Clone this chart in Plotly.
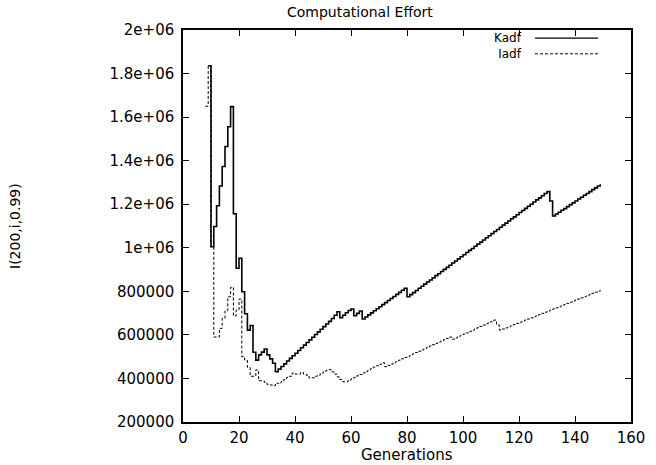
import plotly.graph_objects as go

# ---- data ----
kadf_gen = list(range(9, 150))
kadf_val = [
    1836000, 1005000, 1098000, 1193000, 1284000, 1373000, 1465000, 1556000, 1648000, 1156000,
    906000, 952000, 798000, 697000, 622000, 643000, 520000, 484000, 508000, 521000,
    535000, 508000, 490000, 470000, 431000, 443000, 455000, 467000, 480000, 492000,
    504000, 516000, 528000, 541000, 553000, 565000, 577000, 589000, 602000, 614000,
    626000, 638000, 650000, 662000, 675000, 690000, 706000, 679000, 690000, 702000,
    712000, 719000, 688000, 699000, 710000, 673000, 682000, 692000, 701000, 711000,
    720000, 729000, 739000, 748000, 758000, 767000, 776000, 786000, 795000, 805000,
    814000, 775000, 785000, 794000, 804000, 814000, 823000, 833000, 843000, 852000,
    862000, 872000, 881000, 891000, 901000, 910000, 920000, 930000, 939000, 949000,
    959000, 968000, 978000, 988000, 997000, 1007000, 1017000, 1026000, 1036000, 1046000,
    1055000, 1065000, 1075000, 1084000, 1094000, 1104000, 1113000, 1123000, 1133000, 1142000,
    1152000, 1162000, 1171000, 1181000, 1191000, 1200000, 1210000, 1220000, 1229000, 1239000,
    1249000, 1258000, 1215000, 1146000, 1155000, 1163000, 1172000, 1180000, 1189000, 1198000,
    1206000, 1215000, 1224000, 1232000, 1241000, 1249000, 1258000, 1267000, 1275000, 1284000,
    1292000,
]

iadf_gen = list(range(8, 150))
iadf_val = [
    1650000, 1836000, 1005000, 590000, 590000, 630000, 676000, 710000, 775000, 819000,
    687000, 714000, 764000, 500000, 485000, 450000, 410000, 410000, 439000, 390000,
    390000, 382000, 372000, 370000, 367000, 378000, 376000, 385000, 395000, 405000,
    410000, 425000, 420000, 420000, 428000, 420000, 415000, 402000, 403000, 410000,
    415000, 422000, 430000, 437000, 440000, 430000, 420000, 407000, 395000, 385000,
    385000, 392000, 398000, 405000, 412000, 418000, 425000, 432000, 438000, 445000,
    452000, 458000, 465000, 472000, 454000, 460000, 466000, 472000, 478000, 484000,
    490000, 496000, 501000, 507000, 513000, 519000, 525000, 531000, 537000, 543000,
    549000, 555000, 561000, 567000, 572000, 578000, 584000, 590000, 580000, 586000,
    592000, 598000, 604000, 609000, 615000, 621000, 627000, 633000, 639000, 645000,
    651000, 657000, 662000, 668000, 645000, 622000, 627000, 632000, 637000, 642000,
    648000, 653000, 658000, 663000, 668000, 673000, 678000, 683000, 688000, 693000,
    699000, 704000, 709000, 714000, 719000, 724000, 729000, 734000, 739000, 745000,
    750000, 755000, 760000, 765000, 770000, 775000, 780000, 785000, 791000, 796000,
    801000, 806000,
]

x_ticks = [0, 20, 40, 60, 80, 100, 120, 140, 160]
y_ticks = [200000, 400000, 600000, 800000, 1000000, 1200000, 1400000, 1600000, 1800000, 2000000]
y_tick_text = ["200000", "400000", "600000", "800000", "1e+06", "1.2e+06", "1.4e+06",
               "1.6e+06", "1.8e+06", "2e+06"]

series_names = ["Kadf", "Iadf"]
title_text = "Computational Effort"
x_label = "Generations"
y_label = "I(200,i,0.99)"

FONT = "DejaVu Sans"
FS = 15
W, H = 656, 465
L, R, T, B = 183, 25, 30, 43

fig = go.Figure()
fig.add_trace(go.Scatter(x=kadf_gen, y=kadf_val, mode="lines", name=series_names[0],
                         line=dict(color="black", width=1.6, shape="hv"), showlegend=False))
fig.add_trace(go.Scatter(x=iadf_gen, y=iadf_val, mode="lines", name=series_names[1],
                         line=dict(color="black", width=1, shape="hv", dash="3px,2px"),
                         showlegend=False))

axis_common = dict(showgrid=False, zeroline=False, showline=True, linecolor="black",
                   linewidth=1.5, mirror="ticks", ticks="inside", ticklen=6,
                   tickcolor="black", tickwidth=1,
                   tickfont=dict(family=FONT, size=FS, color="black"))

fig.update_xaxes(range=[0, 160], tickvals=x_ticks, ticktext=[str(v) for v in x_ticks],
                 ticklabelstandoff=1, **axis_common)
fig.update_yaxes(range=[200000, 2000000], tickvals=y_ticks, ticktext=y_tick_text,
                 ticklabelstandoff=4, **axis_common)

pw = W - L - R
ph = H - T - B

def px_to_paper_x(px):
    return (px - L) / pw

def py_to_paper_y(py):
    return 1 - (py - T) / ph

# manual gnuplot-style legend: text right-aligned, sample line to the right
LEG_FS = 12
legend_center = 46
row_gap = LEG_FS * 1.3
legend_rows = [legend_center - row_gap / 2, legend_center + row_gap / 2]
legend_lines = [dict(color="black", width=1.2), dict(color="black", width=1, dash="3px,2px")]
annotations = [dict(x=px_to_paper_x(524), y=py_to_paper_y(legend_center), xref="paper",
                    yref="paper", text="<br>".join(series_names), showarrow=False,
                    xanchor="right", yanchor="middle", align="right",
                    font=dict(family=FONT, size=LEG_FS, color="black"))]
shapes = []
for py, ln in zip(legend_rows, legend_lines):
    shapes.append(dict(type="line", xref="paper", yref="paper",
                       x0=px_to_paper_x(535), x1=px_to_paper_x(598),
                       y0=py_to_paper_y(py), y1=py_to_paper_y(py), line=ln))

annotations.append(dict(x=px_to_paper_x(360), y=py_to_paper_y(12), xref="paper", yref="paper",
                        text=title_text, showarrow=False, xanchor="center", yanchor="middle",
                        font=dict(family=FONT, size=14, color="black")))
annotations.append(dict(x=px_to_paper_x(407), y=py_to_paper_y(455), xref="paper", yref="paper",
                        text=x_label, showarrow=False, xanchor="center", yanchor="middle",
                        font=dict(family=FONT, size=FS, color="black")))
annotations.append(dict(x=px_to_paper_x(15), y=py_to_paper_y(226), xref="paper", yref="paper",
                        text=y_label, showarrow=False, xanchor="center", yanchor="middle",
                        textangle=-90, font=dict(family=FONT, size=14, color="black")))

fig.update_layout(width=W, height=H, margin=dict(l=L, r=R, t=T, b=B, autoexpand=False),
                  paper_bgcolor="white", plot_bgcolor="white",
                  annotations=annotations, shapes=shapes, showlegend=False)

fig.write_html("out.html")
